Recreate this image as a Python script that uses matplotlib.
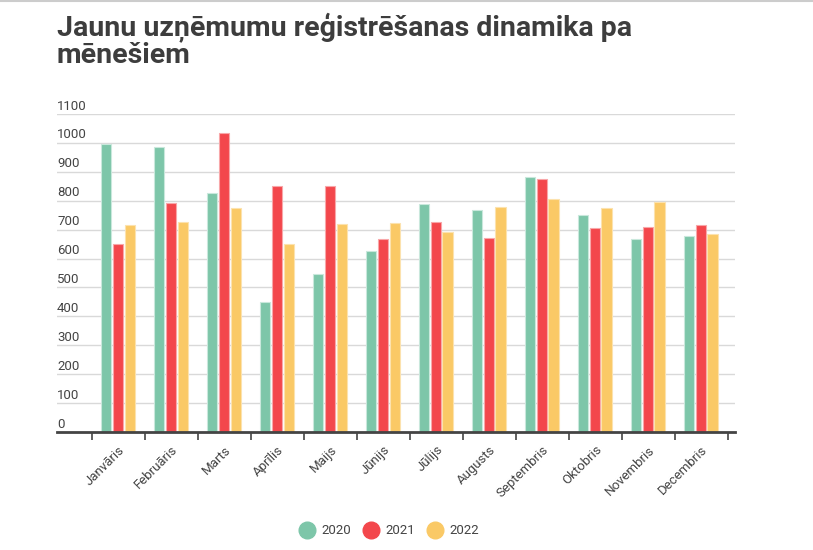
import numpy as np
import matplotlib.pyplot as plt
from matplotlib.lines import Line2D
import matplotlib.transforms as mtransforms

months = ["Janvāris", "Februāris", "Marts", "Aprīlis", "Maijs", "Jūnijs",
          "Jūlijs", "Augusts", "Septembris", "Oktobris", "Novembris", "Decembris"]
years = ["2020", "2021", "2022"]
v2020 = [996, 986, 828, 448, 546, 626, 787, 768, 881, 749, 666, 678]
v2021 = [652, 793, 1033, 850, 850, 666, 725, 671, 874, 707, 708, 716]
v2022 = [716, 728, 774, 651, 719, 722, 691, 777, 805, 774, 795, 685]
yticks = list(range(0, 1101, 100))

colors = ["#7DC6A9", "#F3474C", "#FAC966"]
edges = ["#C9E8DC", "#F8A7A9", "#FCE2AE"]
text_col = "#444444"

plt.rcParams['font.family'] = ['Roboto', 'DejaVu Sans']

fig = plt.figure(figsize=(8.13, 5.5), dpi=100)
W, H = 813, 550
ax = fig.add_axes([57 / W, 1 - 432 / H, (735 - 57) / W, (432 - 114) / H])

x = np.arange(len(months))
offsets = [-0.225, 0.0, 0.215]
for vals, off, c, e, lab in zip([v2020, v2021, v2022], offsets, colors, edges, years):
    ax.bar(x + off, vals, width=0.19, color=c, edgecolor=e, linewidth=0.8,
           label=lab, zorder=3)

ax.set_xlim(-1.155, 11.64)
ax.set_ylim(0, 1100)

# grid lines, labels sit just above them
for v in yticks[1:]:
    ax.axhline(v, color="#d9d9d9", lw=1.0, zorder=1)
trans = mtransforms.blended_transform_factory(ax.transAxes, ax.transData)
shift = mtransforms.ScaledTranslation(0, 4.5 / 100, fig.dpi_scale_trans)
for v in yticks:
    ax.text(0.0, v, str(v), transform=trans + shift, ha="left", va="baseline",
            fontsize=9.5, color=text_col)
ax.set_yticks([])

for s in ["top", "right", "left"]:
    ax.spines[s].set_visible(False)
ax.spines["bottom"].set_color(text_col)
ax.spines["bottom"].set_linewidth(2)
ax.spines["bottom"].set_zorder(4)

# ticks at category boundaries, labels at centers
ax.set_xticks(np.arange(-0.5, len(months), 1.0))
ax.set_xticklabels([])
ax.tick_params(axis="x", which="major", length=6, width=1.2, color=text_col)
ax.set_xticks(x, minor=True)
ax.set_xticklabels(months, minor=True, rotation=45, ha="right",
                   rotation_mode="anchor", fontsize=9.5, color=text_col)
ax.tick_params(axis="x", which="minor", length=0, pad=8)

fig.text(57 / W, 1 - 36.7 / H, "Jaunu uzņēmumu reģistrēšanas dinamika pa",
         fontsize=20.5, fontweight="bold", color="#3d3d3d", ha="left", va="baseline")
fig.text(57 / W, 1 - 63.3 / H, "mēnešiem",
         fontsize=20.5, fontweight="bold", color="#3d3d3d", ha="left", va="baseline")

handles = [Line2D([0], [0], marker="o", linestyle="", markersize=12,
                  markerfacecolor=c, markeredgecolor=c) for c in colors]
fig.legend(handles, years, loc="center", bbox_to_anchor=(389 / W, 1 - 531 / H),
           ncol=3, frameon=False, fontsize=9.5, handletextpad=0.45,
           columnspacing=0.95, handlelength=1.2, labelcolor=text_col)

fig.add_artist(Line2D([0, 1], [1 - 1 / H, 1 - 1 / H], color="#cccccc", lw=1.5))

fig.savefig("out.png", dpi=100)
